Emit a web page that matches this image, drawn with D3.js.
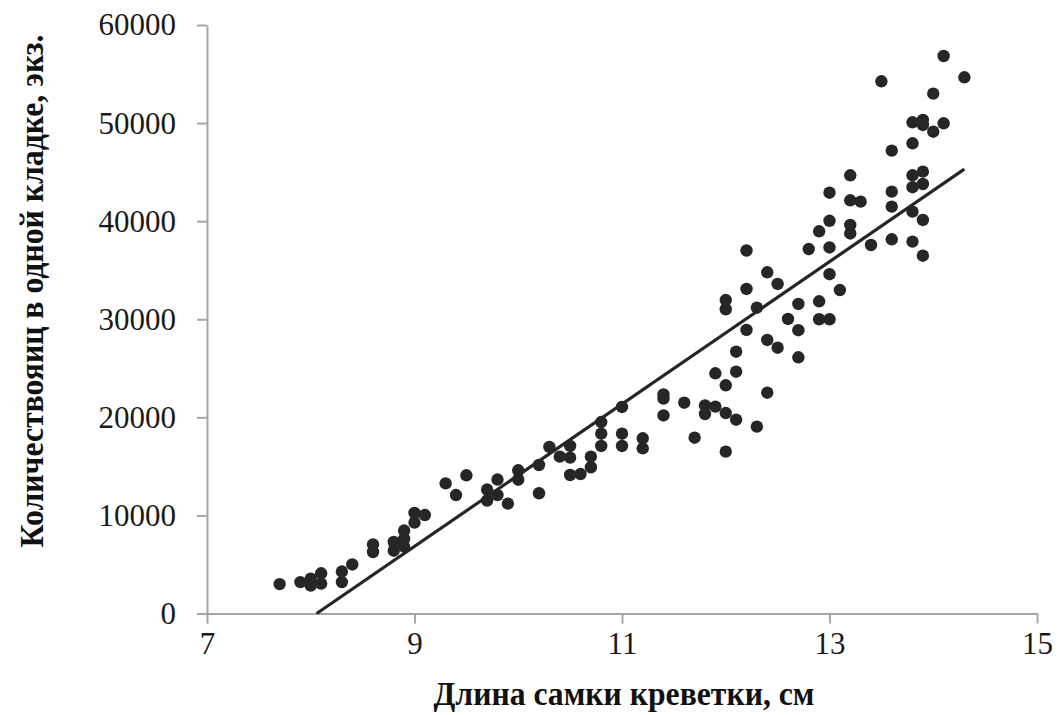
<!DOCTYPE html>
<html>
<head>
<meta charset="utf-8">
<script src="https://cdn.jsdelivr.net/npm/d3@7"></script>
<style>
  html, body { margin: 0; padding: 0; background: #fff; }
  svg { display: block; }
  .tick text { font-family: "Liberation Serif", "Times New Roman", serif; fill: #1a1a1a; }
</style>
</head>
<body>
<svg id="chart" width="1058" height="715"></svg>
<script>
// Female shrimp length (cm) and number of eggs per clutch
const lengthCm = [
  7.7, 7.9, 8.0, 8.0, 8.1, 8.1, 8.3, 8.3, 8.4, 8.6, 8.6, 8.8, 8.8, 8.9, 8.9, 8.9,
  9.0, 9.0, 9.1, 9.3, 9.4, 9.5, 9.7, 9.7, 9.8, 9.8, 9.9, 10.0, 10.0, 10.2, 10.2,
  10.3, 10.4, 10.5, 10.5, 10.5, 10.6, 10.7, 10.7, 10.8, 10.8, 10.8, 11.0, 11.0, 11.0,
  11.2, 11.2, 11.4, 11.4, 11.4, 11.6, 11.7, 11.8, 11.8, 11.9, 11.9,
  12.0, 12.0, 12.0, 12.0, 12.0, 12.1, 12.1, 12.1, 12.2, 12.2, 12.2, 12.3, 12.3,
  12.4, 12.4, 12.4, 12.5, 12.5, 12.6, 12.7, 12.7, 12.7, 12.8, 12.9, 12.9, 12.9,
  13.0, 13.0, 13.0, 13.0, 13.0, 13.1, 13.2, 13.2, 13.2, 13.2, 13.3, 13.4, 13.5,
  13.6, 13.6, 13.6, 13.6, 13.8, 13.8, 13.8, 13.8, 13.8, 13.8,
  13.9, 13.9, 13.9, 13.9, 13.9, 13.9, 14.0, 14.0, 14.1, 14.1, 14.3
];
const eggCount = [
  3000, 3200, 3550, 2850, 4100, 3050, 4280, 3200, 5000, 7050, 6270, 7290, 6400, 8460, 7600, 6810,
  10250, 9260, 10040, 13270, 12080, 14090, 12640, 11520, 13660, 12080, 11200, 14600, 13640, 15140, 12260,
  16980, 15990, 17080, 15890, 14120, 14220, 15990, 14910, 19520, 18330, 17080, 21060, 18330, 17080,
  17860, 16840, 22330, 21920, 20190, 21490, 17920, 21210, 20340, 24490, 21090,
  31960, 31020, 23270, 20440, 16500, 26690, 24650, 19760, 37010, 33090, 28910, 31180, 19050,
  34790, 27890, 22510, 33600, 27100, 30030, 31560, 28880, 26120, 37160, 31830, 30000, 38970,
  42900, 40040, 37320, 34590, 30000, 32980, 44680, 42130, 39610, 38750, 41990, 37570, 54260,
  47190, 43010, 41480, 38150, 50080, 47940, 44680, 43460, 40970, 37910,
  50320, 49810, 45050, 43790, 40120, 36480, 53000, 49120, 56840, 49980, 54670
];

// Linear trend: eggs = slope * length + intercept
const trendSlope = 7256;
const trendIntercept = -58460;

const xTicks = [7, 9, 11, 13, 15];
const yTicks = [0, 10000, 20000, 30000, 40000, 50000, 60000];

const xTitle = "Длина самки креветки, см";
const yTitle = "Количествояиц в одной кладке, экз.";

const svg = d3.select("#chart");

const x = d3.scaleLinear().domain([7, 15]).range([207, 1037]);
const y = d3.scaleLinear().domain([0, 60000]).range([613.5, 25]);

const axisColor = "#a6a6a6";

// Axes
const gx = svg.append("g")
  .attr("transform", `translate(0,${y(0)})`)
  .call(d3.axisBottom(x).tickValues(xTicks).tickFormat(d3.format("d")).tickSize(10).tickSizeOuter(0).tickPadding(8));
const gy = svg.append("g")
  .attr("transform", `translate(${x(7)},0)`)
  .call(d3.axisLeft(y).tickValues(yTicks).tickFormat(d3.format("d")).tickSize(10).tickSizeOuter(0).tickPadding(21));

[gx, gy].forEach(g => {
  g.select(".domain").attr("stroke", axisColor).attr("stroke-width", 2);
  g.selectAll(".tick line").attr("stroke", axisColor).attr("stroke-width", 2);
});
gx.selectAll(".tick text").attr("font-size", 31);
gy.selectAll(".tick text").attr("font-size", 31);

// Data points
const points = lengthCm.map((v, i) => ({ len: v, eggs: eggCount[i] }));
svg.append("g")
  .selectAll("circle")
  .data(points)
  .join("circle")
  .attr("cx", d => x(d.len))
  .attr("cy", d => y(d.eggs))
  .attr("r", 6.2)
  .attr("fill", "#262626");

// Trend line over the data range, clipped at zero
const [minLen, maxLen] = d3.extent(lengthCm);
const startLen = Math.max(minLen, -trendIntercept / trendSlope);
const trend = [startLen, maxLen].map(v => ({ len: v, eggs: trendSlope * v + trendIntercept }));
svg.append("path")
  .datum(trend)
  .attr("fill", "none")
  .attr("stroke", "#262626")
  .attr("stroke-width", 3.2)
  .attr("d", d3.line().x(d => x(d.len)).y(d => y(d.eggs)));

// Axis titles: bold serif, horizontally condensed to a target width
function condensedTitle(text, cx, cy, angle, width) {
  const g = svg.append("g").attr("transform", `translate(${cx},${cy}) rotate(${angle})`);
  const t = g.append("text")
    .attr("text-anchor", "middle")
    .attr("font-family", "Liberation Serif, Times New Roman, serif")
    .attr("font-weight", "bold")
    .attr("font-size", 34)
    .attr("fill", "#111")
    .text(text);
  const natural = t.node().getComputedTextLength();
  t.attr("transform", `scale(${Math.min(1, width / natural)},1)`);
}
condensedTitle(xTitle, 624, 705, 0, 381);
condensedTitle(yTitle, 43, 291, -90, 513);
</script>
</body>
</html>
